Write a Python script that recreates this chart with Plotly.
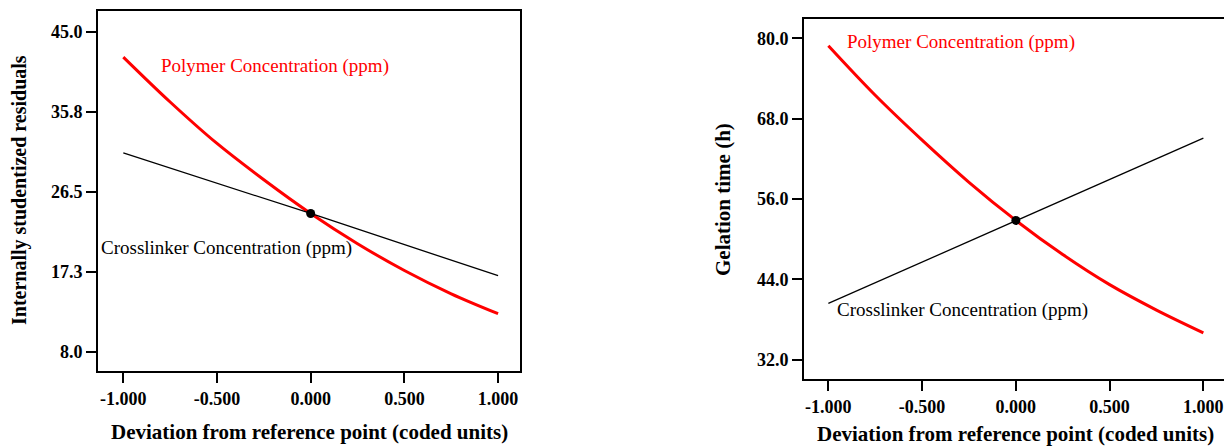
import plotly.graph_objects as go

# The page body has an 8px margin, so the figure is drawn 8px smaller and all
# reference pixel positions are shifted by that offset.
OFF = 8
W, H = 1232 - OFF, 447 - OFF

# ---- data ----
x_coded = [-1.0, -0.75, -0.5, -0.25, 0.0, 0.25, 0.5, 0.75, 1.0]

# Left panel: Internally studentized residuals
left_polymer = [42.1, 36.9, 32.1, 27.9, 24.0, 20.5, 17.4, 14.7, 12.4]
left_cross_x = [-1.0, 0.0, 1.0]
left_cross = [31.0, 24.0, 16.8]
left_ref = 24.0
left_yticks = [8.0, 17.25, 26.5, 35.75, 45.0]
left_yticklabels = ["8.0", "17.3", "26.5", "35.8", "45.0"]

# Right panel: Gelation time (h)
right_polymer = [78.9, 71.5, 64.8, 58.5, 52.8, 47.7, 43.2, 39.4, 36.0]
right_cross_x = [-1.0, 0.0, 1.0]
right_cross = [40.4, 52.8, 65.1]
right_ref = 52.8
right_yticks = [32.0, 44.0, 56.0, 68.0, 80.0]
right_yticklabels = ["32.0", "44.0", "56.0", "68.0", "80.0"]

xticks = [-1.0, -0.5, 0.0, 0.5, 1.0]
xticklabels = ["-1.000", "-0.500", "0.000", "0.500", "1.000"]

SERIF = "Liberation Serif, Times New Roman, serif"

def px(x):
    return (x - OFF) / W

def py(y):
    return 1 - (y - OFF) / H

fig = go.Figure()

# left
fig.add_trace(go.Scatter(x=x_coded, y=left_polymer, mode="lines", line=dict(color="#ff0000", width=3, shape="spline"),
                         xaxis="x", yaxis="y", showlegend=False))
fig.add_trace(go.Scatter(x=left_cross_x, y=left_cross, mode="lines", line=dict(color="black", width=1.3),
                         xaxis="x", yaxis="y", showlegend=False))
fig.add_trace(go.Scatter(x=[0.0], y=[left_ref], mode="markers", marker=dict(color="black", size=9),
                         xaxis="x", yaxis="y", showlegend=False))
# right
fig.add_trace(go.Scatter(x=x_coded, y=right_polymer, mode="lines", line=dict(color="#ff0000", width=3, shape="spline"),
                         xaxis="x2", yaxis="y2", showlegend=False))
fig.add_trace(go.Scatter(x=right_cross_x, y=right_cross, mode="lines", line=dict(color="black", width=1.3),
                         xaxis="x2", yaxis="y2", showlegend=False))
fig.add_trace(go.Scatter(x=[0.0], y=[right_ref], mode="markers", marker=dict(color="black", size=9),
                         xaxis="x2", yaxis="y2", showlegend=False))

tickfont = dict(family=SERIF, size=18, color="black", weight="bold")
axis_common = dict(showgrid=False, zeroline=False, showline=True, linecolor="black", linewidth=2,
                   mirror=True, ticks="outside", ticklen=10, tickwidth=1.5, tickcolor="black",
                   tickfont=tickfont)

fig.update_layout(
    width=W, height=H,
    margin=dict(l=0, r=0, t=0, b=0),
    paper_bgcolor="white", plot_bgcolor="white",
    xaxis=dict(domain=[px(98), px(520)], range=[-1.135, 1.117], tickvals=xticks, ticktext=xticklabels,
               anchor="y", **axis_common),
    yaxis=dict(domain=[py(371), py(11)], range=[5.77, 47.43], tickvals=left_yticks, ticktext=left_yticklabels,
               anchor="x", **axis_common),
    xaxis2=dict(domain=[px(804), px(1224)], range=[-1.13, 1.11], tickvals=xticks, ticktext=xticklabels,
                anchor="y2", **axis_common),
    yaxis2=dict(domain=[py(379), py(19)], range=[29.1, 82.9], tickvals=right_yticks, ticktext=right_yticklabels,
                anchor="x2", **axis_common),
)

titlefont = dict(family=SERIF, size=21, color="black", weight="bold")
ytitlefont = dict(family=SERIF, size=20, color="black", weight="bold")
annfont_red = dict(family=SERIF, size=19, color="#ff0000")
annfont_blk = dict(family=SERIF, size=19, color="black")

anns = [
    dict(text="Deviation from reference point (coded units)", x=px(309), y=py(432), font=titlefont),
    dict(text="Deviation from reference point (coded units)", x=px(1015), y=py(434), font=titlefont),
    dict(text="Internally studentized residuals", x=px(19), y=py(190), font=ytitlefont, textangle=-90),
    dict(text="Gelation time (h)", x=px(723), y=py(200), font=titlefont, textangle=-90),
    dict(text="Polymer Concentration (ppm)", x=px(275), y=py(66), font=annfont_red),
    dict(text="Crosslinker Concentration (ppm)", x=px(226), y=py(248), font=annfont_blk),
    dict(text="Polymer Concentration (ppm)", x=px(961), y=py(42), font=annfont_red),
    dict(text="Crosslinker Concentration (ppm)", x=px(962), y=py(310), font=annfont_blk),
]
for a in anns:
    fig.add_annotation(xref="paper", yref="paper", showarrow=False, xanchor="center", yanchor="middle", **a)

fig.write_html("out.html")
